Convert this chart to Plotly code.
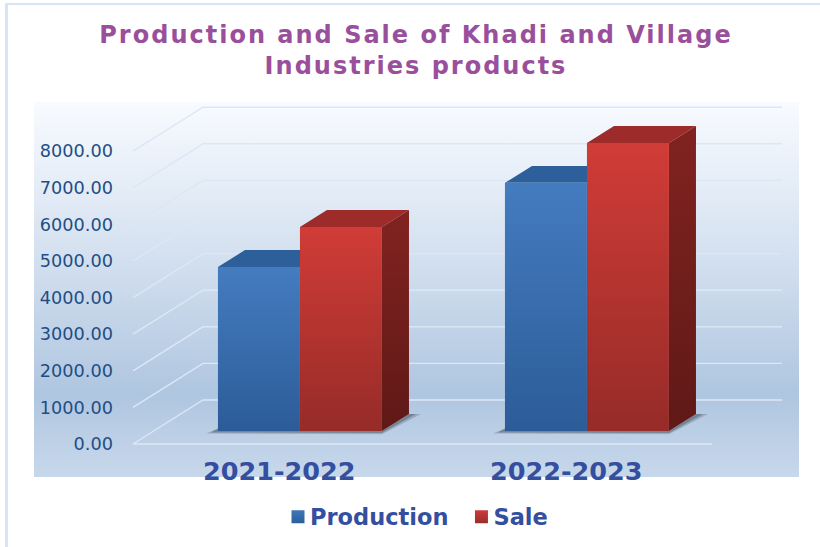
import plotly.graph_objects as go

categories = ["2021-2022", "2022-2023"]
production = [4480, 6780]
sale = [5575, 7870]
tick_values = [0, 1000, 2000, 3000, 4000, 5000, 6000, 7000, 8000]
tick_labels = ["0.00", "1000.00", "2000.00", "3000.00", "4000.00", "5000.00", "6000.00", "7000.00", "8000.00"]

W, H = 820, 547
PX_PER_CAT = 287.0          # pixels between categories
PX_PER_VAL = 0.0366         # pixels per value unit
CAT0_PX = 279.3             # pixel of category 0 on the front plane
ZERO_PX = 444.0             # pixel of value 0 on the front plane
DEPTH_X = 70.0 / PX_PER_CAT
DEPTH_Y = 44.0 / PX_PER_VAL
BAR_W = 82.0 / PX_PER_CAT
BAR_NEAR, BAR_FAR = 0.295, 0.681
PLOT_L, PLOT_R, PLOT_T, PLOT_B = 34, 799, 102, 477
WALL_L = (133 - CAT0_PX) / PX_PER_CAT
WALL_R = (712 - CAT0_PX) / PX_PER_CAT
X_RANGE = [(PLOT_L - CAT0_PX) / PX_PER_CAT, (PLOT_R - CAT0_PX) / PX_PER_CAT]
Y_RANGE = [(ZERO_PX - PLOT_B) / PX_PER_VAL, (ZERO_PX - PLOT_T) / PX_PER_VAL]


def proj(x, v, d=0.0):
    """Oblique projection of (category position, value, depth) on the axes."""
    return x + d * DEPTH_X, v + d * DEPTH_Y


def poly(points):
    pts = [proj(*p) for p in points]
    pts.append(pts[0])
    return [p[0] for p in pts], [p[1] for p in pts]


fig = go.Figure()

# panel background
fig.add_trace(go.Scatter(
    x=[X_RANGE[0], X_RANGE[1], X_RANGE[1], X_RANGE[0], X_RANGE[0]],
    y=[Y_RANGE[0], Y_RANGE[0], Y_RANGE[1], Y_RANGE[1], Y_RANGE[0]],
    mode="none", fill="toself", showlegend=False, hoverinfo="skip",
    fillgradient=dict(type="vertical", colorscale=[
        [0, "#c8d8eb"], [0.22, "#afc6e0"], [0.6, "#d5e1f0"], [1, "#f8fbff"]]),
))

# wall and floor grid lines
for v in tick_values:
    xs, ys = zip(proj(WALL_L, v, 0), proj(WALL_L, v, 1), proj(WALL_R, v, 1))
    fig.add_trace(go.Scatter(x=list(xs), y=list(ys), mode="lines", showlegend=False,
                             hoverinfo="skip", line=dict(color="#dce7f5", width=1.4)))
xs, ys = zip(proj(WALL_L, 0, 0), proj(WALL_R, 0, 0))
fig.add_trace(go.Scatter(x=list(xs), y=list(ys), mode="lines", showlegend=False,
                         hoverinfo="skip", line=dict(color="#dce7f5", width=1.4)))


def face(pts, top, bottom=None):
    xs, ys = poly(pts)
    kw = dict(fillcolor=top) if bottom is None else dict(
        fillgradient=dict(type="vertical", colorscale=[[0, bottom], [1, top]]))
    fig.add_trace(go.Scatter(x=xs, y=ys, mode="none", fill="toself",
                             showlegend=False, hoverinfo="skip", **kw))


# soft floor shadows (a wider pale layer under a tighter one)
sh = 12.0 / PX_PER_CAT
for i in range(len(categories)):
    l = i - BAR_W
    r = i + BAR_W
    for grow, colour in [(1.0, "rgba(75,85,100,0.28)"), (0.6, "rgba(75,85,100,0.45)")]:
        face([(l - sh * grow, -65 * grow, BAR_NEAR), (l, 70, BAR_NEAR), (r, 0, BAR_NEAR),
              (r, 0, BAR_FAR), (r + sh * grow, 0, BAR_FAR), (r, -90 * grow, BAR_NEAR)], colour)

# bar faces
styles = [
    (production, -1, "#2d5f9a", "#2d5f9a", "#5f1917", "#447cc0", "#2c5c98"),
    (sale, 0, "#9c2b29", "#812320", "#5f1917", "#d13c37", "#962b28"),
]
for values, off, top_c, side_t, side_b, front_t, front_b in styles:
    for i, v in enumerate(values):
        l, r = i + off * BAR_W, i + (off + 1) * BAR_W
        face([(l, v, BAR_NEAR), (r, v, BAR_NEAR), (r, v, BAR_FAR), (l, v, BAR_FAR)], top_c)
        face([(r, 0, BAR_NEAR), (r, 0, BAR_FAR), (r, v, BAR_FAR), (r, v, BAR_NEAR)], side_t, side_b)
        face([(l, 0, BAR_NEAR), (r, 0, BAR_NEAR), (r, v, BAR_NEAR), (l, v, BAR_NEAR)], front_t, front_b)

# legend entries
for name, col, col2 in [("Production", "#3f77ba", "#2c5f9c"), ("Sale", "#cf3a36", "#98302c")]:
    fig.add_trace(go.Scatter(x=[None], y=[None], mode="markers", name=name,
                             marker=dict(symbol="square", size=13, color=col,
                                         gradient=dict(type="vertical", color=col2))))

fig.update_layout(
    width=W, height=H, margin=dict(l=0, r=0, t=0, b=0),
    paper_bgcolor="white", plot_bgcolor="rgba(0,0,0,0)",
    title=dict(
        text="Production and Sale of Khadi and Village<br>Industries products",
        x=416 / W, xanchor="center", xref="paper", y=1 - 43 / H, yanchor="top", yref="container",
        font=dict(family="DejaVu Sans", size=24, weight="bold", color="#9a4f9c"),
    ),
    xaxis=dict(domain=[PLOT_L / W, PLOT_R / W], range=X_RANGE, anchor="free",
               position=1 - 453 / H, tickvals=[0, 1], ticktext=categories,
               showgrid=False, zeroline=False, showline=False, ticks="",
               tickfont=dict(family="DejaVu Sans", size=25.5, weight="bold", color="#354fa0")),
    yaxis=dict(domain=[1 - PLOT_B / H, 1 - PLOT_T / H], range=Y_RANGE, anchor="free",
               position=113 / W, tickvals=tick_values, ticktext=tick_labels,
               showgrid=False, zeroline=False, showline=False, ticks="",
               tickfont=dict(family="DejaVu Sans", size=17.7, color="#1f4e85")),
    legend=dict(orientation="h", x=270 / W, xanchor="left", y=1 - 517 / H, yanchor="middle",
                bgcolor="rgba(0,0,0,0)", itemwidth=30,
                font=dict(family="DejaVu Sans", size=22.5, weight="bold", color="#354fa0")),
    shapes=[
        dict(type="rect", xref="paper", yref="paper", x0=5 / W, x1=8 / W, y0=0, y1=1 - 3 / H,
             fillcolor="#d6e4f7", line_width=0, layer="below"),
        dict(type="rect", xref="paper", yref="paper", x0=5 / W, x1=1, y0=1 - 5 / H, y1=1 - 3 / H,
             fillcolor="#d6e4f7", line_width=0, layer="below"),
    ],
)

post = """
document.body.style.margin='0';
document.querySelectorAll('.gtitle').forEach(function(t){t.style.letterSpacing='2px';});
document.querySelectorAll('.legendsymbols').forEach(function(g){g.setAttribute('transform','translate(8,0)');});
"""
fig.write_html("out.html", post_script=post, config=dict(displayModeBar=False))
